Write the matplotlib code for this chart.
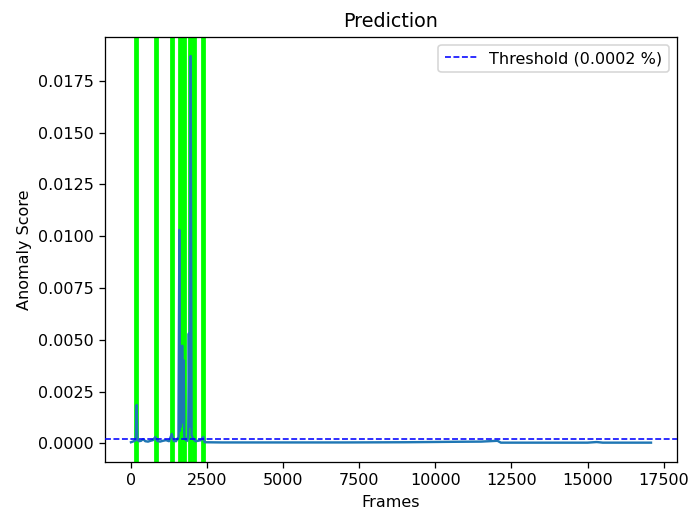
import matplotlib
matplotlib.use("Agg")
import matplotlib.pyplot as plt

# Anomaly score per frame (key points of the score trace)
frames = [0, 60, 120, 160, 185, 210, 260, 330, 400, 470, 560, 640, 720, 800,
          860, 950, 1050, 1150, 1250, 1340, 1400, 1480, 1560, 1590, 1605, 1620,
          1640, 1660, 1690, 1710, 1730, 1750, 1800, 1850, 1880, 1900, 1925, 1960,
          1990, 2050, 2120, 2200, 2300, 2370, 2420, 3000, 5000, 7000, 9000, 9800,
          10500, 11500, 12040, 12150, 13500, 15000, 15300, 15500, 17083]
scores = [0.00005, 0.00008, 0.00012, 0.00015, 0.00185, 0.00020, 0.00010, 0.00012,
          0.00020, 0.00010, 0.00008, 0.00012, 0.00015, 0.00030, 0.00012, 0.00008,
          0.00012, 0.00015, 0.00010, 0.00045, 0.00012, 0.00010, 0.00030, 0.01030,
          0.00060, 0.00350, 0.00080, 0.00470, 0.00470, 0.00100, 0.00400, 0.00030,
          0.00015, 0.00012, 0.00040, 0.00530, 0.00080, 0.01870, 0.00040, 0.00020,
          0.00010, 0.00012, 0.00015, 0.00030, 0.00005, 0.00004, 0.00004, 0.00004,
          0.00005, 0.00006, 0.00007, 0.00008, 0.00012, 0.00003, 0.00003, 0.00003,
          0.00006, 0.00003, 0.00003]

# Frames flagged as ground-truth anomalies
anomaly_frames = [181, 819, 1339, 1609, 1740, 1951, 2085, 2359]

threshold = 0.0002

DPI = 115
fig = plt.figure(figsize=(688 / DPI, 514 / DPI), dpi=DPI)
ax = fig.add_subplot(111)
fig.subplots_adjust(left=0.1526, right=0.984, top=0.9286, bottom=0.1012)

for f in anomaly_frames:
    ax.axvline(f, color="#00ff00", linewidth=3, zorder=1)

ax.plot(frames, scores, color="#1f77b4", linewidth=1.5, zorder=2)
ax.axhline(threshold, color="blue", linestyle="--", linewidth=1,
           label=f"Threshold ({threshold} %)", zorder=3)

ax.set_title("Prediction")
ax.set_xlabel("Frames")
ax.set_ylabel("Anomaly Score")
ax.legend(loc="upper right")

fig.savefig("out.png", dpi=DPI)
